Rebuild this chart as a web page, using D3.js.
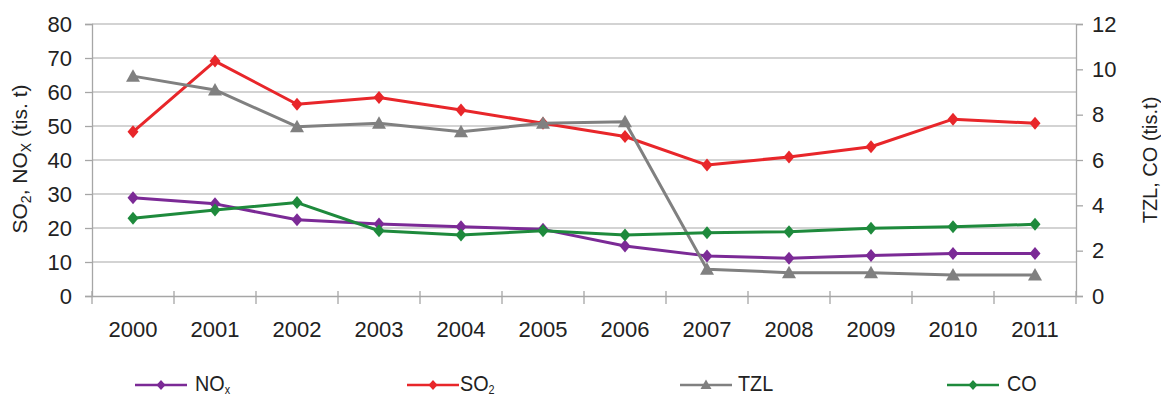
<!DOCTYPE html>
<html><head><meta charset="utf-8">
<script src="https://cdn.jsdelivr.net/npm/d3@7"></script>
<style>
html,body{margin:0;padding:0;background:#fff;overflow:hidden;}
svg{display:block;font-family:"Liberation Sans",Arial,sans-serif;}
</style></head>
<body>
<svg id="chart" width="1161" height="397"></svg>
<script>
const years = ["2000","2001","2002","2003","2004","2005","2006","2007","2008","2009","2010","2011"];
const noxValues = [28.9,27.1,22.4,21.2,20.4,19.6,14.7,11.8,11.1,11.9,12.5,12.5];   // left axis
const so2Values = [48.3,69.1,56.4,58.4,54.7,50.8,46.9,38.5,40.9,43.9,52.0,50.8];   // left axis
const tzlValues = [9.70,9.09,7.47,7.62,7.25,7.62,7.69,1.18,1.03,1.03,0.93,0.93];   // right axis
const coValues  = [3.43,3.79,4.12,2.88,2.69,2.88,2.69,2.79,2.84,2.99,3.06,3.16];   // right axis
const leftTicks = [0,10,20,30,40,50,60,70,80];
const rightTicks = [0,2,4,6,8,10,12];

const svg = d3.select("#chart");
const pLeft = 92, pRight = 1076, pTop = 24, pBottom = 296;

const x = d3.scaleBand().domain(years).range([pLeft, pRight]);
const yL = d3.scaleLinear().domain([0, 80]).range([pBottom, pTop]);
const yR = d3.scaleLinear().domain([0, 12]).range([pBottom, pTop]);

const gridColor = "#c4c4c4", axisColor = "#a6a6a6", textColor = "#222";
const fontFam = "'Liberation Sans', Arial, sans-serif";
const tickFont = "22px";

// gridlines
svg.append("g").selectAll("line").data(leftTicks.filter(d => d > 0)).join("line")
  .attr("x1", pLeft).attr("x2", pRight)
  .attr("y1", d => yL(d)).attr("y2", d => yL(d))
  .attr("stroke", gridColor).attr("stroke-width", 1.3);

// left axis
const gL = svg.append("g").attr("transform", `translate(${pLeft},0)`)
  .call(d3.axisLeft(yL).tickValues(leftTicks).tickSize(7).tickPadding(13));
gL.select(".domain").attr("stroke", axisColor).attr("stroke-width", 1.3);
gL.selectAll(".tick line").attr("stroke", axisColor).attr("stroke-width", 1.3);
gL.selectAll(".tick text").attr("fill", textColor).style("font-size", tickFont).style("font-family", fontFam);

// right axis
const gR = svg.append("g").attr("transform", `translate(${pRight},0)`)
  .call(d3.axisRight(yR).tickValues(rightTicks).tickSize(7).tickPadding(9));
gR.select(".domain").attr("stroke", axisColor).attr("stroke-width", 1.3);
gR.selectAll(".tick line").attr("stroke", axisColor).attr("stroke-width", 1.3);
gR.selectAll(".tick text").attr("fill", textColor).style("font-size", tickFont).style("font-family", fontFam);

// bottom axis
const gB = svg.append("g").attr("transform", `translate(0,${pBottom})`)
  .call(d3.axisBottom(x).tickSize(0).tickPadding(25));
gB.select(".domain").attr("stroke", axisColor).attr("stroke-width", 1.3);
gB.selectAll(".tick text").attr("fill", textColor).style("font-size", tickFont).style("font-family", fontFam);
// category boundary ticks
const bounds = years.map(d => x(d)).concat([x(years[years.length-1]) + x.bandwidth()]);
svg.append("g").selectAll("line").data(bounds).join("line")
  .attr("x1", d => d).attr("x2", d => d)
  .attr("y1", pBottom - 5).attr("y2", pBottom + 8)
  .attr("stroke", axisColor).attr("stroke-width", 1.3);

// axis titles
const lt = svg.append("text").attr("transform", `translate(27,159) rotate(-90)`)
  .attr("text-anchor", "middle").attr("fill", textColor).style("font-size", "21px");
lt.append("tspan").text("SO");
lt.append("tspan").text("2").attr("baseline-shift", "-30%").style("font-size", "14px");
lt.append("tspan").text(", NO").attr("baseline-shift", "0");
lt.append("tspan").text("X").attr("baseline-shift", "-30%").style("font-size", "14px");
lt.append("tspan").text(" (tis. t)").attr("baseline-shift", "0");

svg.append("text").attr("transform", `translate(1157,160) rotate(-90)`)
  .attr("text-anchor", "middle").attr("fill", textColor).style("font-size", "20px")
  .text("TZL, CO (tis.t)");

// series
const series = [
  {name: "NO", sub: "x", values: noxValues, scale: yL, color: "#7b2a96", marker: "diamond"},
  {name: "SO", sub: "2", values: so2Values, scale: yL, color: "#e8262a", marker: "diamond"},
  {name: "TZL", sub: "", values: tzlValues, scale: yR, color: "#808080", marker: "triangle"},
  {name: "CO", sub: "", values: coValues, scale: yR, color: "#1e8a3c", marker: "diamond"}
];

const cx = d => x(d) + x.bandwidth() / 2;
const diamond = "M0,-6.5L5.5,0L0,6.5L-5.5,0Z";
const triangle = "M0,-7L7,5.5L-7,5.5Z";
const diamondSm = "M0,-5L4.5,0L0,5L-4.5,0Z";
const triangleSm = "M0,-5.5L5.5,4L-5.5,4Z";

series.forEach(s => {
  const pts = years.map((yr, i) => [cx(yr), s.scale(s.values[i])]);
  svg.append("path").attr("d", d3.line()(pts))
    .attr("fill", "none").attr("stroke", s.color).attr("stroke-width", 3)
    .attr("stroke-linejoin", "round");
  svg.append("g").selectAll("path").data(pts).join("path")
    .attr("transform", d => `translate(${d[0]},${d[1]})`)
    .attr("d", s.marker === "triangle" ? triangle : diamond)
    .attr("fill", s.color);
});

// legend
const legendLineX = [135, 407, 680, 947];
const legendTextX = [195, 460, 738, 1007];
const ly = 385;
series.forEach((s, i) => {
  const g = svg.append("g");
  g.append("line").attr("x1", legendLineX[i]).attr("x2", legendLineX[i] + 52).attr("y1", ly).attr("y2", ly)
    .attr("stroke", s.color).attr("stroke-width", 2.6);
  g.append("path").attr("transform", `translate(${legendLineX[i] + 26},${ly})`)
    .attr("d", s.marker === "triangle" ? triangleSm : diamondSm).attr("fill", s.color);
  const t = g.append("text").attr("transform", `translate(${legendTextX[i]},391) scale(0.9,1)`)
    .attr("fill", textColor).style("font-size", "22px");
  t.append("tspan").text(s.name);
  if (s.sub) t.append("tspan").text(s.sub).attr("dy", 3).style("font-size", "12px");
});
</script>
</body></html>
